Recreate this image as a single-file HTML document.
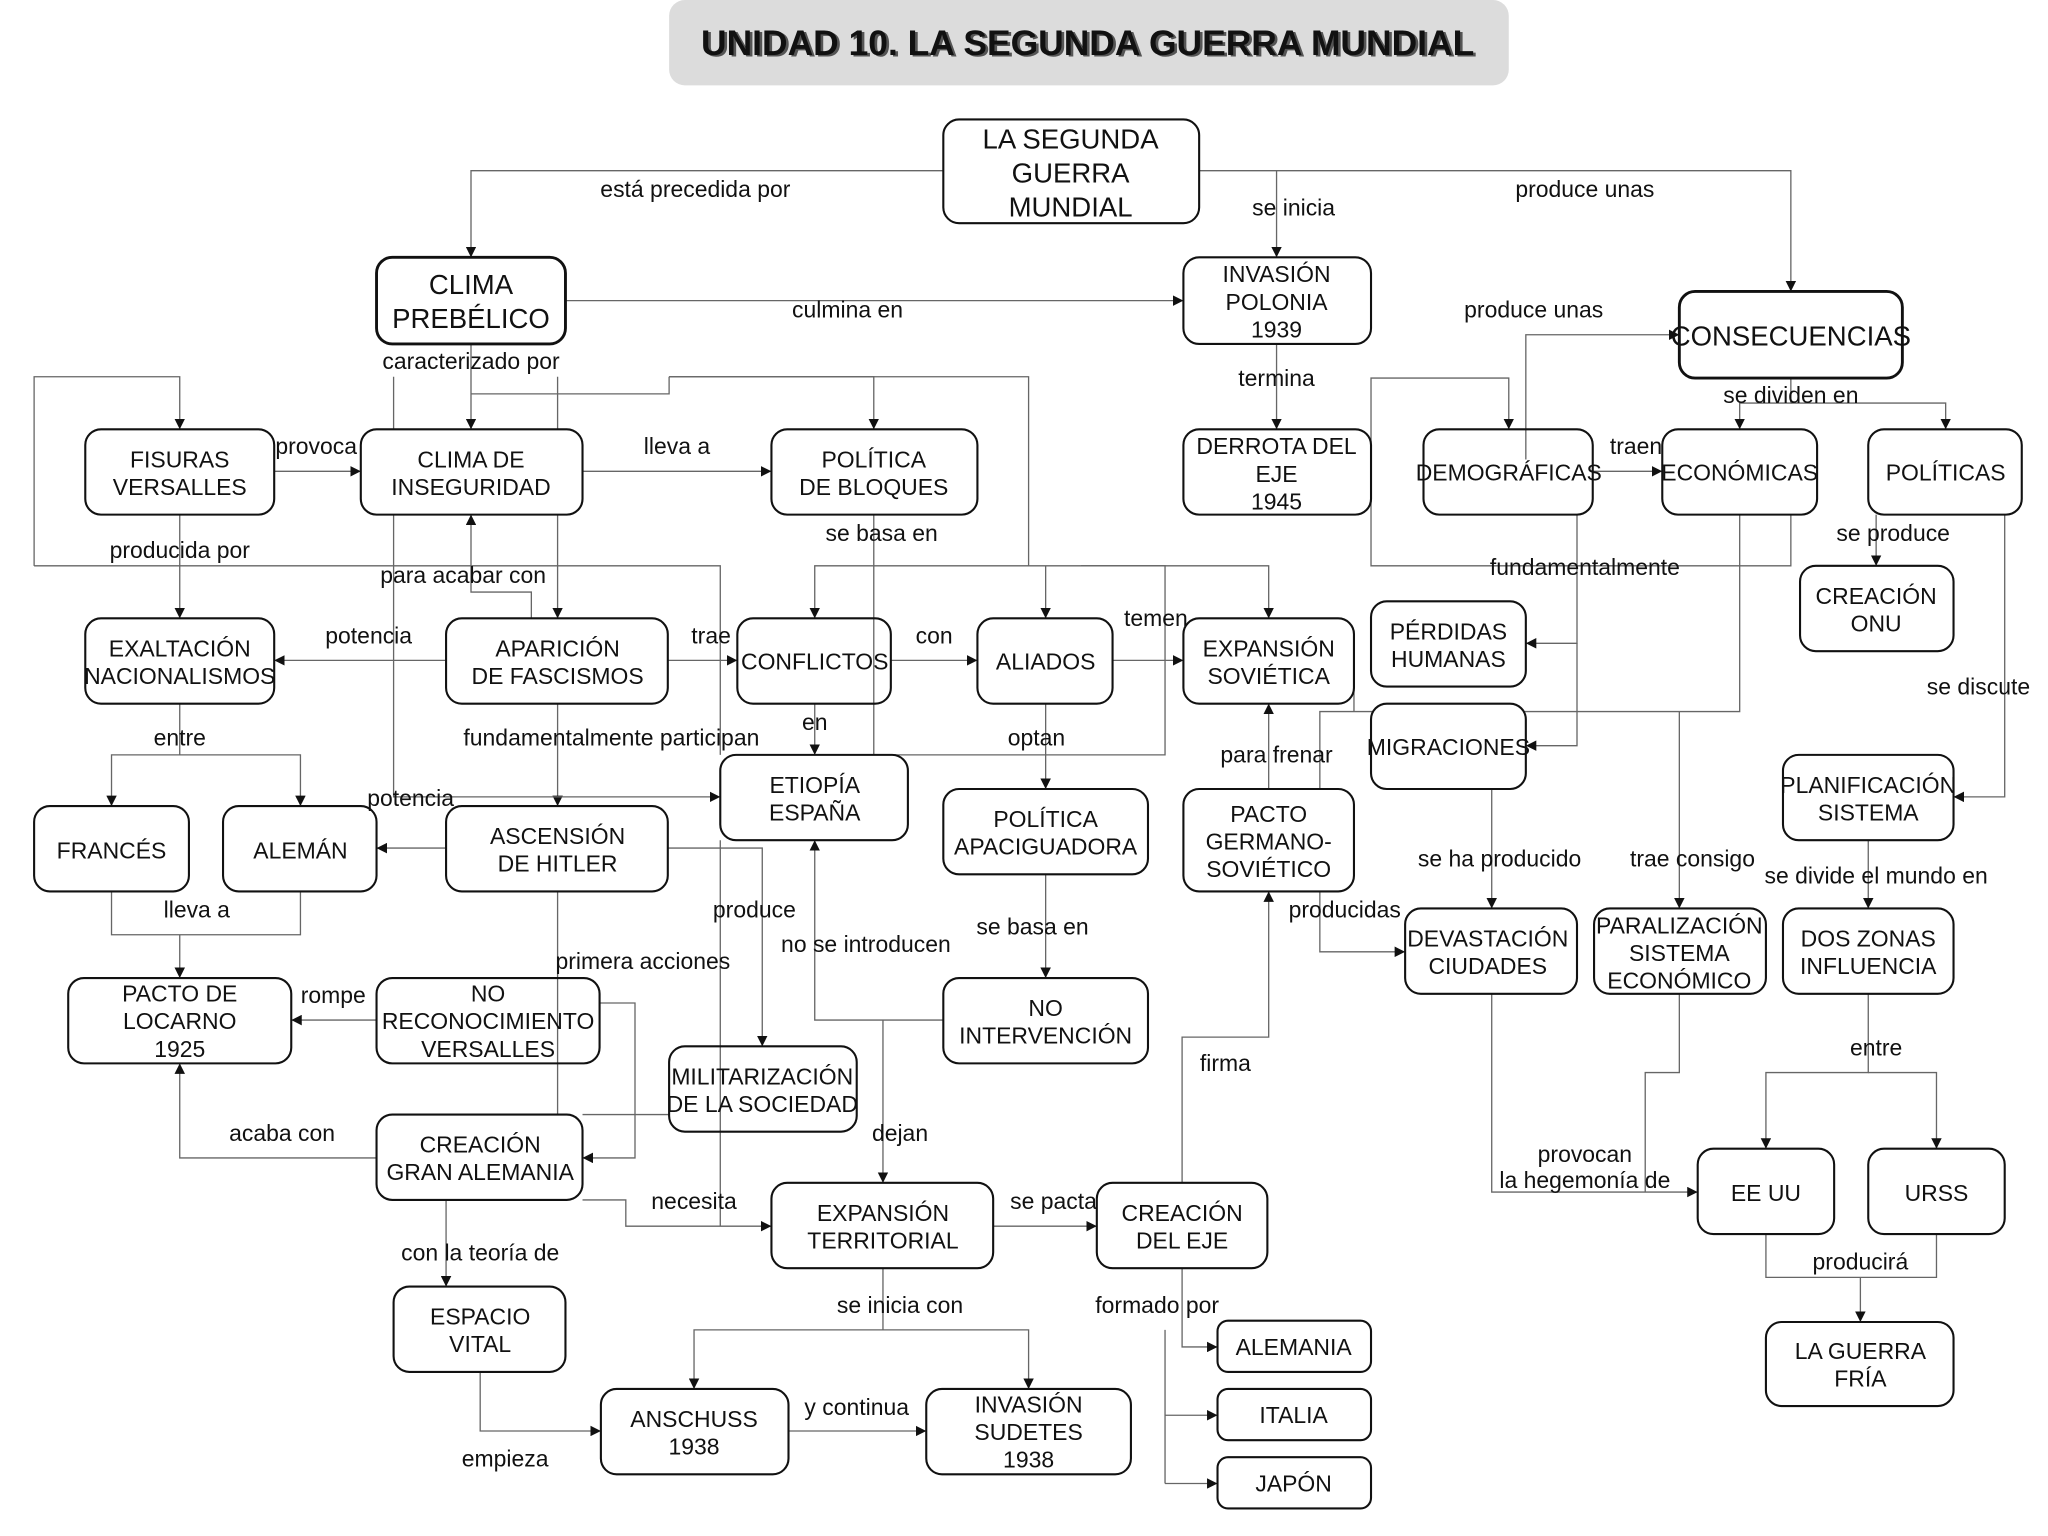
<!DOCTYPE html>
<html><head><meta charset="utf-8"><style>
html,body{margin:0;padding:0;background:#fff;}
svg{display:block;}
text{font-family:"Liberation Sans Narrow","Liberation Sans",sans-serif;font-size:17.5px;fill:#111;text-anchor:middle;}
.b{fill:#fff;stroke:#111;stroke-width:1.6;}
.l{fill:none;stroke:#666;stroke-width:1;}
</style></head><body>
<svg width="2048" height="1536" viewBox="0 0 1561 1170" preserveAspectRatio="none" xmlns="http://www.w3.org/2000/svg">
<defs><marker id="a" viewBox="0 0 10 10" refX="10" refY="5" markerWidth="8" markerHeight="8" markerUnits="userSpaceOnUse" orient="auto"><path d="M0,0L10,5L0,10z" fill="#111"/></marker></defs>
<rect x="510" y="0" width="640" height="65" rx="12" fill="#dcdcdc"/>
<text x="831" y="43" style="font-size:27px;font-weight:bold;fill:#555" >UNIDAD 10. LA SEGUNDA GUERRA MUNDIAL</text>
<text x="829" y="42" style="font-size:27px;font-weight:bold;">UNIDAD 10. LA SEGUNDA GUERRA MUNDIAL</text>

<g class="l" marker-end="url(#a)">
<polyline points="719,130 359,130 359,196"/>
<polyline points="914,130 1365,130 1365,222"/>
<polyline points="973,130 973,196"/>
<polyline points="431,229 902,229"/>
<polyline points="359,262 359,327"/>
<polyline points="973,262 973,327"/>
<polyline points="1163,350 1163,255 1280,255"/>
<polyline points="1365,288 1365,307 1326,307 1326,327"/>
<polyline points="1365,307 1483,307 1483,327"/>
<polyline points="1045,359 1045,288 1150,288 1150,327"/>
<polyline points="1214,359 1267,359"/>
<polyline points="1430,392 1430,431"/>
<polyline points="1528,392 1528,607 1489,607"/>
<polyline points="1424,640 1424,692"/>
<polyline points="1424,757 1424,817 1346,817 1346,875"/>
<polyline points="1424,817 1476,817 1476,875"/>
<polyline points="1418,973 1418,1007"/>
<polyline points="1202,392 1202,490 1163,490"/>
<polyline points="1202,490 1202,568 1163,568"/>
<polyline points="1326,392 1326,542 1006,542 1006,725 1071,725"/>
<polyline points="1280,542 1280,692"/>
<polyline points="1137,601 1137,692"/>
<polyline points="1137,757 1137,908 1294,908"/>
<polyline points="209,359 275,359"/>
<polyline points="444,359 588,359"/>
<polyline points="137,392 137,471"/>
<polyline points="26,431 26,287 137,287 137,327"/>
<polyline points="405,471 405,451 359,451 359,392"/>
<polyline points="425,287 425,471"/>
<polyline points="510,287 666,287 666,327"/>
<polyline points="784,431 621,431 621,471"/>
<polyline points="824,431 967,431 967,471"/>
<polyline points="797,431 797,471"/>
<polyline points="340,503 209,503"/>
<polyline points="509,503 562,503"/>
<polyline points="679,503 745,503"/>
<polyline points="848,503 902,503"/>
<polyline points="621,536 621,575"/>
<polyline points="797,536 797,601"/>
<polyline points="967,601 967,536"/>
<polyline points="137,536 137,575 85,575 85,614"/>
<polyline points="137,575 229,575 229,614"/>
<polyline points="425,536 425,614"/>
<polyline points="300,287 300,607 549,607"/>
<polyline points="340,646 287,646"/>
<polyline points="137,712 137,745"/>
<polyline points="509,646 581,646 581,797"/>
<polyline points="287,777 222,777"/>
<polyline points="287,882 137,882 137,810"/>
<polyline points="457,764 484,764 484,882 444,882"/>
<polyline points="340,914 340,980"/>
<polyline points="444,914 477,914 477,934 588,934"/>
<polyline points="757,934 836,934"/>
<polyline points="901,901 901,790 967,790 967,679"/>
<polyline points="797,666 797,745"/>
<polyline points="719,777 621,777 621,640"/>
<polyline points="673,777 673,901"/>
<polyline points="673,966 673,1013 529,1013 529,1058"/>
<polyline points="673,1013 784,1013 784,1058"/>
<polyline points="601,1090 706,1090"/>
<polyline points="366,1045 366,1090 458,1090"/>
<polyline points="901,966 901,1026 928,1026"/>
<polyline points="888,1078 928,1078"/>
<polyline points="888,1130 928,1130"/>
</g>
<g class="l">
<polyline points="1045,359 1045,431 1365,431 1365,392"/>
<polyline points="1254,908 1254,817 1280,817 1280,757"/>
<polyline points="1346,940 1346,973 1476,973 1476,940"/>
<polyline points="85,679 85,712 229,712 229,679"/>
<polyline points="26,431 549,431 549,575"/>
<polyline points="359,300 510,300 510,287"/>
<polyline points="510,287 784,287 784,431 888,431 888,575 666,575 666,392"/>
<polyline points="1032,503 1032,542"/>
<polyline points="425,679 425,849"/>
<polyline points="510,849 444,849"/>
<polyline points="549,640 549,934"/>
<polyline points="888,1013 888,1130"/>
</g>

<g class="b">
<rect x="719" y="91" width="195" height="79" rx="12"/>
<rect x="287" y="196" width="144" height="66" rx="12" stroke-width="2.2"/>
<rect x="902" y="196" width="143" height="66" rx="12"/>
<rect x="1280" y="222" width="170" height="66" rx="12" stroke-width="2.2"/>
<rect x="65" y="327" width="144" height="65" rx="12"/>
<rect x="275" y="327" width="169" height="65" rx="12"/>
<rect x="588" y="327" width="157" height="65" rx="12"/>
<rect x="902" y="327" width="143" height="65" rx="12"/>
<rect x="1085" y="327" width="129" height="65" rx="12" fill="none"/>
<rect x="1267" y="327" width="118" height="65" rx="12" fill="none"/>
<rect x="1424" y="327" width="117" height="65" rx="12"/>
<rect x="1372" y="431" width="117" height="65" rx="12"/>
<rect x="65" y="471" width="144" height="65" rx="12"/>
<rect x="340" y="471" width="169" height="65" rx="12"/>
<rect x="562" y="471" width="117" height="65" rx="12" fill="none"/>
<rect x="745" y="471" width="103" height="65" rx="12"/>
<rect x="902" y="471" width="130" height="65" rx="12"/>
<rect x="1045" y="458" width="118" height="65" rx="12"/>
<rect x="1045" y="536" width="118" height="65" rx="12"/>
<rect x="549" y="575" width="143" height="65" rx="12"/>
<rect x="26" y="614" width="118" height="65" rx="12"/>
<rect x="170" y="614" width="117" height="65" rx="12"/>
<rect x="340" y="614" width="169" height="65" rx="12"/>
<rect x="719" y="601" width="156" height="65" rx="12"/>
<rect x="902" y="601" width="130" height="78" rx="12"/>
<rect x="1359" y="575" width="130" height="65" rx="12"/>
<rect x="52" y="745" width="170" height="65" rx="12"/>
<rect x="287" y="745" width="170" height="65" rx="12" fill="none"/>
<rect x="510" y="797" width="143" height="65" rx="12" fill="none"/>
<rect x="719" y="745" width="156" height="65" rx="12"/>
<rect x="1071" y="692" width="131" height="65" rx="12"/>
<rect x="1215" y="692" width="131" height="65" rx="12"/>
<rect x="1359" y="692" width="130" height="65" rx="12"/>
<rect x="287" y="849" width="157" height="65" rx="12"/>
<rect x="588" y="901" width="169" height="65" rx="12"/>
<rect x="836" y="901" width="130" height="65" rx="12"/>
<rect x="1294" y="875" width="104" height="65" rx="12"/>
<rect x="1424" y="875" width="104" height="65" rx="12"/>
<rect x="300" y="980" width="131" height="65" rx="12"/>
<rect x="1346" y="1007" width="143" height="64" rx="12"/>
<rect x="458" y="1058" width="143" height="65" rx="12"/>
<rect x="706" y="1058" width="156" height="65" rx="12"/>
<rect x="928" y="1006" width="117" height="39" rx="8"/>
<rect x="928" y="1058" width="117" height="39" rx="8"/>
<rect x="928" y="1110" width="117" height="39" rx="8"/>
</g>

<g style="font-size:21px">
<text x="816" y="113" style="font-size:21px">LA SEGUNDA</text>
<text x="816" y="139" style="font-size:21px">GUERRA</text>
<text x="816" y="165" style="font-size:21px">MUNDIAL</text>
<text x="359" y="224" style="font-size:21px">CLIMA</text>
<text x="359" y="250" style="font-size:21px">PREBÉLICO</text>
<text x="1365" y="263" style="font-size:21px">CONSECUENCIAS</text>
</g>
<text x="973" y="215">INVASIÓN</text><text x="973" y="236">POLONIA</text><text x="973" y="257">1939</text>
<text x="137" y="356">FISURAS</text><text x="137" y="377">VERSALLES</text>
<text x="359" y="356">CLIMA DE</text><text x="359" y="377">INSEGURIDAD</text>
<text x="666" y="356">POLÍTICA</text><text x="666" y="377">DE BLOQUES</text>
<text x="973" y="346">DERROTA DEL</text><text x="973" y="367">EJE</text><text x="973" y="388">1945</text>
<text x="1150" y="366">DEMOGRÁFICAS</text>
<text x="1326" y="366">ECONÓMICAS</text>
<text x="1483" y="366">POLÍTICAS</text>
<text x="1430" y="460">CREACIÓN</text><text x="1430" y="481">ONU</text>
<text x="137" y="500">EXALTACIÓN</text><text x="137" y="521">NACIONALISMOS</text>
<text x="425" y="500">APARICIÓN</text><text x="425" y="521">DE FASCISMOS</text>
<text x="621" y="510">CONFLICTOS</text>
<text x="797" y="510">ALIADOS</text>
<text x="967" y="500">EXPANSIÓN</text><text x="967" y="521">SOVIÉTICA</text>
<text x="1104" y="487">PÉRDIDAS</text><text x="1104" y="508">HUMANAS</text>
<text x="1104" y="575">MIGRACIONES</text>
<text x="621" y="604">ETIOPÍA</text><text x="621" y="625">ESPAÑA</text>
<text x="85" y="654">FRANCÉS</text>
<text x="229" y="654">ALEMÁN</text>
<text x="425" y="643">ASCENSIÓN</text><text x="425" y="664">DE HITLER</text>
<text x="797" y="630">POLÍTICA</text><text x="797" y="651">APACIGUADORA</text>
<text x="967" y="626">PACTO</text><text x="967" y="647">GERMANO-</text><text x="967" y="668">SOVIÉTICO</text>
<text x="1424" y="604">PLANIFICACIÓN</text><text x="1424" y="625">SISTEMA</text>
<text x="137" y="763">PACTO DE</text><text x="137" y="784">LOCARNO</text><text x="137" y="805">1925</text>
<text x="372" y="763">NO</text><text x="372" y="784">RECONOCIMIENTO</text><text x="372" y="805">VERSALLES</text>
<text x="581" y="826">MILITARIZACIÓN</text><text x="581" y="847">DE LA SOCIEDAD</text>
<text x="797" y="774">NO</text><text x="797" y="795">INTERVENCIÓN</text>
<text x="1134" y="721">DEVASTACIÓN</text><text x="1134" y="742">CIUDADES</text>
<text x="1280" y="711">PARALIZACIÓN</text><text x="1280" y="732">SISTEMA</text><text x="1280" y="753">ECONÓMICO</text>
<text x="1424" y="721">DOS ZONAS</text><text x="1424" y="742">INFLUENCIA</text>
<text x="366" y="878">CREACIÓN</text><text x="366" y="899">GRAN ALEMANIA</text>
<text x="673" y="930">EXPANSIÓN</text><text x="673" y="951">TERRITORIAL</text>
<text x="901" y="930">CREACIÓN</text><text x="901" y="951">DEL EJE</text>
<text x="1346" y="915">EE UU</text>
<text x="1476" y="915">URSS</text>
<text x="366" y="1009">ESPACIO</text><text x="366" y="1030">VITAL</text>
<text x="1418" y="1035">LA GUERRA</text><text x="1418" y="1056">FRÍA</text>
<text x="529" y="1087">ANSCHUSS</text><text x="529" y="1108">1938</text>
<text x="784" y="1076">INVASIÓN</text><text x="784" y="1097">SUDETES</text><text x="784" y="1118">1938</text>
<text x="986" y="1032">ALEMANIA</text>
<text x="986" y="1084">ITALIA</text>
<text x="986" y="1136">JAPÓN</text>

<text x="530" y="150">está  precedida por</text>
<text x="986" y="164">se inicia</text>
<text x="1208" y="150">produce unas</text>
<text x="646" y="242">culmina en</text>
<text x="1169" y="242">produce unas</text>
<text x="359" y="281">caracterizado por</text>
<text x="973" y="294">termina</text>
<text x="1365" y="307">se dividen en</text>
<text x="241" y="346">provoca</text>
<text x="516" y="346">lleva a</text>
<text x="1247" y="346">traen</text>
<text x="137" y="425">producida por</text>
<text x="672" y="412">se basa en</text>
<text x="1443" y="412">se produce</text>
<text x="353" y="444">para acabar con</text>
<text x="1208" y="438">fundamentalmente</text>
<text x="281" y="490">potencia</text>
<text x="542" y="490">trae</text>
<text x="712" y="490">con</text>
<text x="881" y="477">temen</text>
<text x="1508" y="529">se discute</text>
<text x="621" y="556">en</text>
<text x="137" y="568">entre</text>
<text x="466" y="568">fundamentalmente  participan</text>
<text x="790" y="568">optan</text>
<text x="973" y="581">para frenar</text>
<text x="313" y="614">potencia</text>
<text x="1143" y="660">se ha producido</text>
<text x="1290" y="660">trae consigo</text>
<text x="1430" y="673">se divide el mundo en</text>
<text x="150" y="699">lleva a</text>
<text x="575" y="699">produce</text>
<text x="1025" y="699">producidas</text>
<text x="787" y="712">se basa en</text>
<text x="660" y="725">no se introducen</text>
<text x="490" y="738">primera acciones</text>
<text x="254" y="764">rompe</text>
<text x="1430" y="804">entre</text>
<text x="934" y="816">firma</text>
<text x="215" y="869">acaba con</text>
<text x="686" y="869">dejan</text>
<text x="1208" y="885">provocan</text>
<text x="1208" y="905">la hegemonía de</text>
<text x="529" y="921">necesita</text>
<text x="803" y="921">se pacta</text>
<text x="366" y="960">con la teoría de</text>
<text x="1418" y="967">producirá</text>
<text x="686" y="1000">se inicia con</text>
<text x="882" y="1000">formado por</text>
<text x="653" y="1078">y continua</text>
<text x="385" y="1117">empieza</text>
</svg>
</body></html>
